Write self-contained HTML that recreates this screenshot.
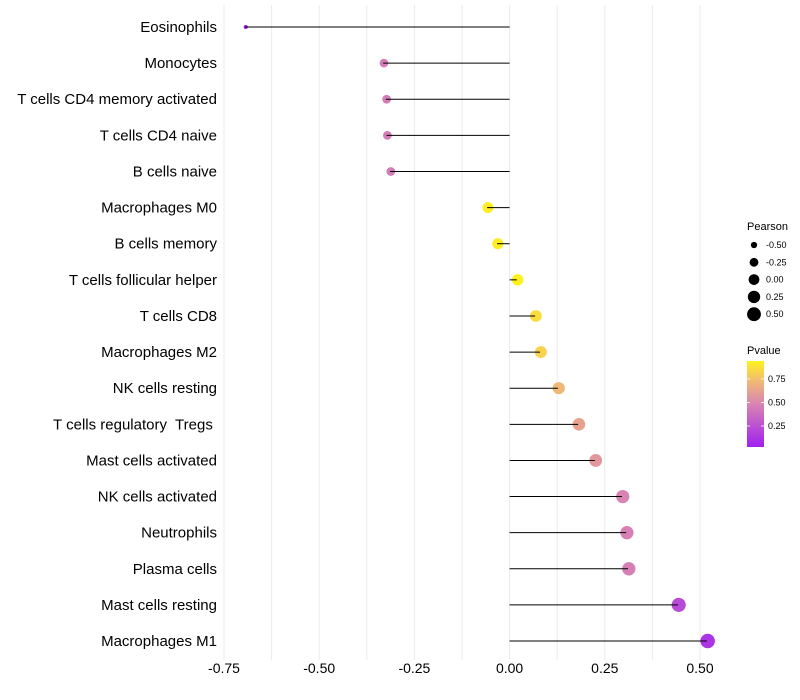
<!DOCTYPE html>
<html><head><meta charset="utf-8"><style>
body{margin:0;background:#fff;}
svg{display:block;font-family:"Liberation Sans",sans-serif;}
</style></head><body>
<svg id="c" width="800" height="700">
<defs><linearGradient id="pg" x1="0" y1="1" x2="0" y2="0">
<stop offset="0" stop-color="#a020f0"/><stop offset="0.5" stop-color="#d884b2"/><stop offset="0.78" stop-color="#f2bc70"/><stop offset="1" stop-color="#fff21c"/></linearGradient></defs>
<g id="grid"></g>
<g id="marks"></g>
<g id="legend"></g>
</svg>
<script>
const categories=["Eosinophils","Monocytes","T cells CD4 memory activated","T cells CD4 naive","B cells naive","Macrophages M0","B cells memory","T cells follicular helper","T cells CD8","Macrophages M2","NK cells resting","T cells regulatory  Tregs ","Mast cells activated","NK cells activated","Neutrophils","Plasma cells","Mast cells resting","Macrophages M1"];
const pearson=[-0.695,-0.332,-0.325,-0.323,-0.314,-0.059,-0.033,0.019,0.067,0.080,0.127,0.180,0.224,0.295,0.306,0.311,0.442,0.518];
const pvalues=[0.03,0.45,0.45,0.45,0.45,0.92,0.92,0.94,0.86,0.82,0.72,0.62,0.57,0.48,0.47,0.46,0.22,0.12];
const xTicks=[-0.75,-0.5,-0.25,0,0.25,0.5];
const xTickLabels=["-0.75","-0.50","-0.25","0.00","0.25","0.50"];
const sizeLegend=[-0.5,-0.25,0,0.25,0.5];
const sizeLegendLabels=["-0.50","-0.25","0.00","0.25","0.50"];
const pLegend=[0.25,0.5,0.75];
const pLegendLabels=["0.25","0.50","0.75"];
const NS="http://www.w3.org/2000/svg";
function x(v){return 509.6+v*380.8;}
function y(i){return 27+i*36.12;}
function r(v){return Math.sqrt(4+40*(v+0.7));}
function hex(h){return [1,3,5].map(i=>parseInt(h.substr(i,2),16));}
const stops=[[0.03,"#a020f0"],[0.485,"#d884b2"],[0.74,"#f2bc70"],[0.94,"#fff21c"]];
function col(p){
 if(p<=stops[0][0])return stops[0][1];
 for(let i=1;i<stops.length;i++){if(p<=stops[i][0]){const t=(p-stops[i-1][0])/(stops[i][0]-stops[i-1][0]);const a=hex(stops[i-1][1]),b=hex(stops[i][1]);return "rgb("+a.map((c,k)=>Math.round(c+(b[k]-c)*t)).join(",")+")";}}
 return stops[stops.length-1][1];}
function mk(tag,at,parent,txt){const e=document.createElementNS(NS,tag);for(const k in at)e.setAttribute(k,at[k]);if(txt!==undefined)e.textContent=txt;parent.appendChild(e);return e;}
const grid=document.getElementById('grid'),marks=document.getElementById('marks'),leg=document.getElementById('legend');
for(let v=-0.75;v<=0.51;v+=0.125){
 const g=mk('line',{x1:x(v),x2:x(v),y1:5,y2:660,stroke:'#ebebeb','stroke-width':1},grid);
 
 
}
xTicks.forEach((v,i)=>{
 const t=mk('text',{x:x(v),y:673,'font-size':14,'text-anchor':'middle',fill:'#000'},grid,xTickLabels[i]);
 
 
});
categories.forEach((c,i)=>{
 const t=mk('text',{x:217,y:y(i)+5,'font-size':15,'text-anchor':'end',fill:'#000',style:'white-space:pre'},marks,c);
 
 
 const ci=mk('circle',{cx:x(pearson[i])+0.8,cy:y(i),r:r(pearson[i]),fill:col(pvalues[i])},marks);
 
 
 const l=mk('line',{x1:x(0),x2:x(pearson[i]),y1:y(i),y2:y(i),stroke:'#000','stroke-width':1},marks);
 
 
});
const lt=mk('text',{x:747,y:230,'font-size':11},leg,'Pearson');


sizeLegend.forEach((v,i)=>{
 const cy=245+i*17.3;
 const c=mk('circle',{cx:754,cy:cy,r:r(v)-0.3,fill:'#000'},leg);
 
 
 const t=mk('text',{x:766,y:cy+3,'font-size':9},leg,sizeLegendLabels[i]);
 
 
});
const pt=mk('text',{x:747,y:354,'font-size':11},leg,'Pvalue');


const bar=mk('rect',{x:747,y:361,width:17,height:86,fill:'url(#pg)'},leg);


function py(p){return 447-(p-0.027)/(0.94-0.027)*86;}
pLegend.forEach((v,i)=>{
 mk('line',{x1:747,x2:750,y1:py(v),y2:py(v),stroke:'#fff','stroke-width':0.8},leg);
 mk('line',{x1:761,x2:764,y1:py(v),y2:py(v),stroke:'#fff','stroke-width':0.8},leg);
 const t=mk('text',{x:768,y:py(v)+3,'font-size':9},leg,pLegendLabels[i]);
 
 
});
</script>
</body></html>
